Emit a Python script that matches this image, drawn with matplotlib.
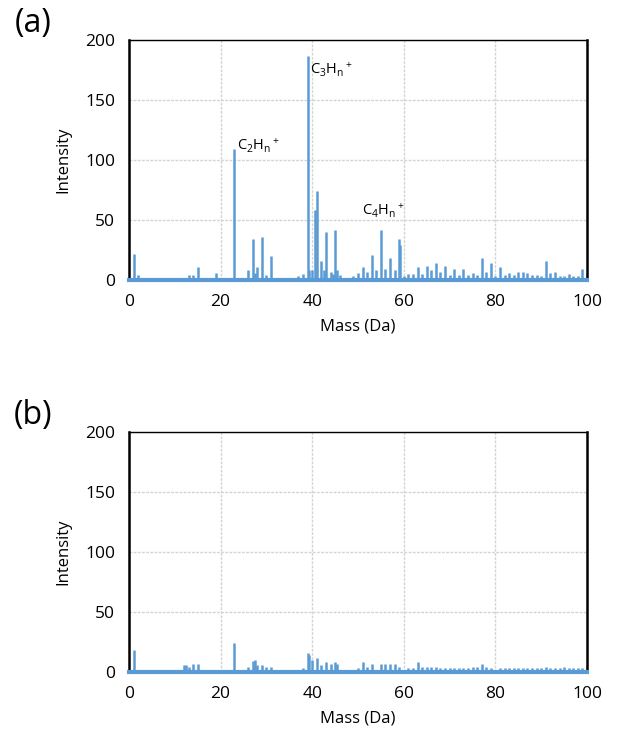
import matplotlib
matplotlib.use("Agg")
import matplotlib.pyplot as plt

plt.rcParams['font.family'] = ['Open Sans', 'DejaVu Sans']
plt.rcParams['mathtext.fontset'] = 'custom'
plt.rcParams['mathtext.rm'] = 'Open Sans'
plt.rcParams['mathtext.it'] = 'Open Sans'

# ---- data ----
# panel (a)
mass_a = [1, 2, 3, 4, 5, 6, 7, 8, 9, 10, 11, 12, 13, 14, 15, 16, 17, 18, 19, 20,
          21, 22, 23, 24, 25, 26, 27, 27.5, 28, 29, 30, 31, 32, 33, 34, 35, 36, 37, 38,
          39, 39.4, 40, 40.7, 41, 42, 42.5, 43, 44, 44.5, 45, 45.5, 46, 47, 48, 49, 50,
          51, 52, 53, 54, 55, 56, 57, 58, 59, 59.2, 60, 61, 62, 63, 64, 65, 66, 67, 68,
          69, 70, 71, 72, 73, 74, 75, 76, 77, 78, 79, 80, 81, 82, 83, 84, 85, 86, 87,
          88, 89, 90, 91, 92, 93, 94, 95, 96, 97, 98, 99, 100]
int_a = [22, 4.5, 2, 1, 1, 1, 1.5, 1, 1, 1, 1.5, 2, 4, 4.5, 11, 1.5, 1.5, 1.5, 6, 1,
         1.5, 1, 109, 1.5, 2, 8, 34, 6, 11, 36, 4.5, 20, 1.5, 1.5, 1, 1.5, 1, 3, 5,
         187, 8, 8, 58, 74, 16, 8, 40, 7, 5, 42, 8, 4, 2, 2, 3, 6,
         10.5, 7, 20.5, 8, 42, 9.5, 18, 8, 34.5, 29, 3, 5, 5, 10.5, 5, 12, 8, 14, 7,
         12, 4, 9, 4, 9, 4, 5.5, 4, 18.5, 7, 14, 3, 11, 4, 5.5, 4, 7, 7, 5.5,
         4, 4.5, 3, 15.5, 5.5, 7, 3.5, 3, 5, 3.5, 3.5, 9, 3]

# panel (b)
mass_b = [1, 2, 3, 4, 5, 6, 7, 8, 9, 10, 11, 12, 12.5, 13, 14, 15, 16, 17, 18, 19, 20,
          21, 22, 23, 24, 25, 26, 27, 27.5, 28, 29, 30, 31, 32, 33, 34, 35, 36, 37, 38,
          39, 39.3, 40, 41, 42, 43, 44, 45, 45.4, 46, 47, 48, 49, 50,
          51, 52, 53, 54, 55, 56, 57, 58, 59, 60, 61, 62, 63, 64, 65, 66, 67, 68,
          69, 70, 71, 72, 73, 74, 75, 76, 77, 78, 79, 80, 81, 82, 83, 84, 85, 86, 87,
          88, 89, 90, 91, 92, 93, 94, 95, 96, 97, 98, 99, 100]
int_b = [18, 2, 1.5, 1, 1, 1, 1.5, 1, 1, 1, 1.5, 6, 5.5, 4.5, 6.5, 6.5, 1.5, 1.5, 1.5, 1.5, 1,
         1.5, 1.5, 24.5, 2, 2, 4.5, 9.5, 10, 6, 6, 4, 4.5, 1.5, 1.5, 1.5, 1.5, 1.5, 2, 3.5,
         15.5, 14, 10, 12, 6, 8, 6.5, 8.5, 7, 2, 2, 2, 2, 3.5,
         8, 4.5, 6.5, 2, 6.5, 6.5, 6.5, 6.5, 4.5, 2, 3.5, 3.5, 8.5, 4.5, 4.5, 4.5, 4.5, 3,
         3, 3, 3, 3, 3, 3, 4.5, 4.5, 6.5, 4.5, 3.5, 2, 3, 3, 3, 3, 3, 3, 3,
         3, 3, 3, 4.5, 3, 3, 3, 4.5, 3, 3, 3, 3.5, 3]

labels_a = [r'C$_2$H$_n$$^+$', r'C$_3$H$_n$$^+$', r'C$_4$H$_n$$^+$']
label_x = [23.6, 39.5, 50.9]
label_y = [112, 175, 58]

blue = '#5b9bd5'

fig = plt.figure(figsize=(6.17, 7.51), dpi=100)
ax1 = fig.add_axes([0.2091, 0.6272, 0.7423, 0.3196])
ax2 = fig.add_axes([0.2091, 0.1052, 0.7423, 0.3196])

for ax, m, v, tag in [(ax1, mass_a, int_a, '(a)'), (ax2, mass_b, int_b, '(b)')]:
    ax.vlines(m, 0, v, color=blue, lw=1.8)
    ax.set_xlim(0, 100)
    ax.set_ylim(0, 200)
    ax.set_xticks([0, 20, 40, 60, 80, 100])
    ax.set_yticks([0, 50, 100, 150, 200])
    ax.tick_params(length=0, labelsize=12.5, pad=10)
    ax.grid(True, color='#d4d4d4', linestyle=(0, (2, 1)), lw=1)
    ax.set_axisbelow(True)
    ax.spines['left'].set_linewidth(1.8)
    ax.spines['right'].set_linewidth(1.8)
    ax.spines['top'].set_linewidth(1.0)
    ax.spines['bottom'].set_color(blue)
    ax.spines['bottom'].set_linewidth(3)
    ax.set_xlabel('Mass (Da)', fontsize=12, labelpad=6)
    ax.set_ylabel('Intensity', fontsize=12, labelpad=10)
    pos = ax.get_position()
    fig.text(0.054, pos.y1 + 0.022, tag, fontsize=23, ha='center', va='center')

for t, x, y in zip(labels_a, label_x, label_y):
    ax1.text(x, y, t, fontsize=10.5, ha='left', va='center')

fig.savefig('out.png', dpi=100)
